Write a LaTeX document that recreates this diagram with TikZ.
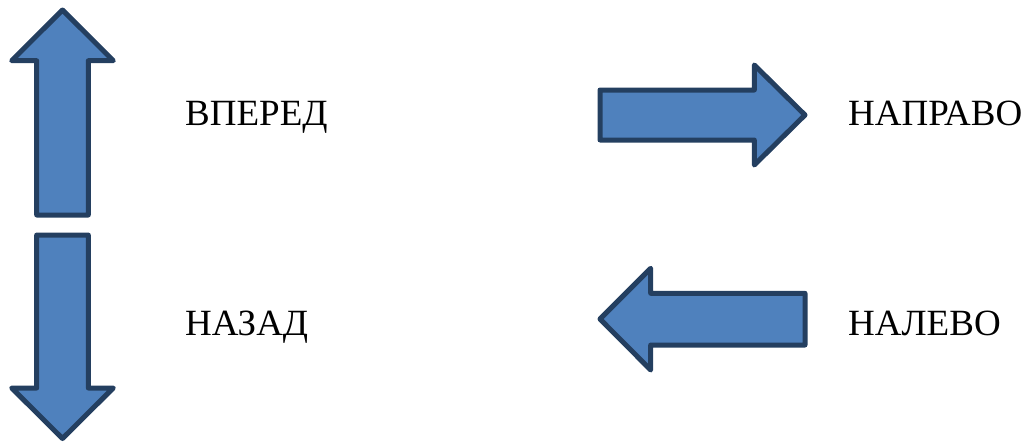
\documentclass[tikz,border=0pt]{standalone}
\usepackage{fontspec}
\setmainfont{Liberation Serif}
\definecolor{arrowfill}{HTML}{4F81BD}
\definecolor{arrowline}{HTML}{243F60}
\begin{document}
\begin{tikzpicture}[x=1pt,y=-1pt,
  blockarrow/.style={fill=arrowfill,draw=arrowline,line width=5pt,line join=round},
  lbl/.style={anchor=base west,inner sep=0pt,font=\fontsize{37}{42}\selectfont}]
\useasboundingbox (0,0) rectangle (1030,442);
% up
\draw[blockarrow] (62.5,10) -- (113.3,60.7) -- (88.3,60.7) -- (88.3,215) -- (36.7,215) -- (36.7,60.7) -- (11.7,60.7) -- cycle;
% down
\draw[blockarrow] (36.7,235) -- (88.3,235) -- (88.3,388) -- (113.3,388) -- (62.5,438.5) -- (11.7,388) -- (36.7,388) -- cycle;
% right
\draw[blockarrow] (600,90) -- (754.3,90) -- (754.3,65) -- (805,115) -- (754.3,165) -- (754.3,140) -- (600,140) -- cycle;
% left
\draw[blockarrow] (805,293.3) -- (650.7,293.3) -- (650.7,268.3) -- (600,319) -- (650.7,370) -- (650.7,345) -- (805,345) -- cycle;
\node[lbl] (fwd) at (185,125) {ВПЕРЕД};
\node[lbl] (rgt) at (848,125) {НАПРАВО};
\node[lbl] (bck) at (185,335) {НАЗАД};
\node[lbl] (lft) at (848,335) {НАЛЕВО};
\end{tikzpicture}
\end{document}
